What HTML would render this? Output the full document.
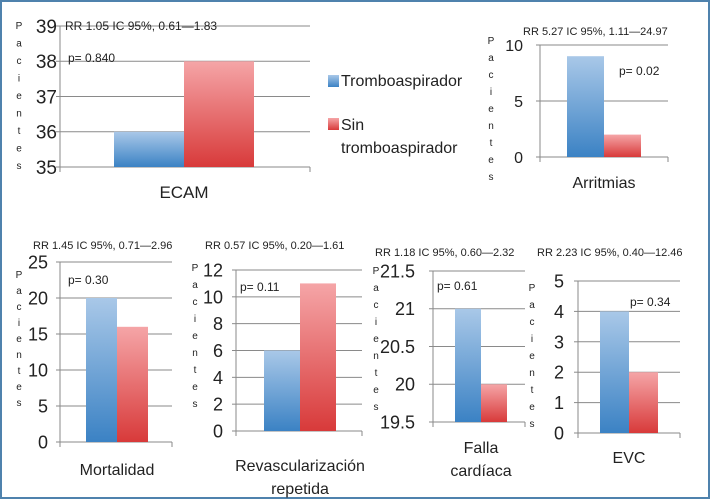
<!DOCTYPE html>
<html><head><meta charset="utf-8">
<style>
html,body{margin:0;padding:0;background:#fff;}
svg{display:block;font-family:"Liberation Sans",sans-serif;}
</style></head>
<body>
<svg id="fig" width="710" height="499" viewBox="0 0 710 499" xmlns="http://www.w3.org/2000/svg">
<defs>
<linearGradient id="gb" x1="0" y1="0" x2="0" y2="1"><stop offset="0" stop-color="#a9c8e8"/><stop offset="1" stop-color="#3b82c4"/></linearGradient>
<linearGradient id="gr" x1="0" y1="0" x2="0" y2="1"><stop offset="0" stop-color="#f5a5a7"/><stop offset="1" stop-color="#d83a3a"/></linearGradient>
</defs>
<rect x="1" y="1" width="708" height="497" fill="#fff" stroke="#4f82ad" stroke-width="2"/>
<g>
<rect x="328" y="75" width="11" height="12" fill="url(#gb)"/>
<text x="341" y="86" font-size="16" fill="#222">Tromboaspirador</text>
<rect x="328" y="118" width="11" height="12" fill="url(#gr)"/>
<text x="341" y="130" font-size="16" fill="#222">Sin</text>
<text x="341" y="153" font-size="16" fill="#222">tromboaspirador</text>
</g>
</svg>
<script>
const panelNames=["ecam","arritmias","mortalidad","revascularizacion","falla-cardiaca","evc"];
const categories=[["ECAM"],["Arritmias"],["Mortalidad"],["Revascularización","repetida"],["Falla","cardíaca"],["EVC"]];
const conTrombo=[36,9,20,6,21,4];
const sinTrombo=[38,2,16,11,20,2];
const yMin=[35,0,0,0,19.5,0];
const yMax=[39,10,25,12,21.5,5];
const yStep=[1,5,5,2,0.5,1];
const rrLabels=["RR 1.05 IC 95%, 0.61\u20141.83","RR 5.27 IC 95%, 1.11\u201424.97","RR 1.45 IC 95%, 0.71\u20142.96","RR 0.57 IC 95%, 0.20\u20141.61","RR 1.18 IC 95%, 0.60\u20142.32","RR 2.23 IC 95%, 0.40\u201412.46"];
const pLabels=["p= 0.840","p= 0.02","p= 0.30","p= 0.11","p= 0.61","p= 0.34"];
// layout (pixels)
const L=[
 {l:60,r:310,t:26,b:167,b0:114,bw:70,tf:19,tx:57,lx:19,ly:29,ls:17.5,rx:65,ry:30,rf:12,px:68,py:62,cy:[198],cf:17},
 {l:540,r:668,t:45,b:157,b0:567,bw:37,tf:16,tx:523,lx:491,ly:44,ls:17,rx:523,ry:35,rf:11,px:619,py:75,cy:[188],cf:16},
 {l:60,r:172,t:262,b:442,b0:86,bw:31,tf:18,tx:48,lx:19,ly:278,ls:16,rx:33,ry:249,rf:11,px:68,py:284,cy:[475,497],cf:16},
 {l:236,r:362,t:270,b:431,b0:264,bw:36,tf:18,tx:223,lx:195,ly:271,ls:17,rx:205,ry:249,rf:11,px:240,py:291,cy:[471,494],cf:16},
 {l:433,r:525,t:271,b:422,b0:455,bw:26,tf:18,tx:415,lx:376,ly:274,ls:17,rx:375,ry:256,rf:11,px:437,py:290,cy:[453,476],cf:16},
 {l:578,r:680,t:281,b:433,b0:600,bw:29,tf:18,tx:564,lx:532,ly:291,ls:17,rx:537,ry:256,rf:11,px:630,py:306,cy:[463],cf:16}
];
const NS="http://www.w3.org/2000/svg";
const svg=document.getElementById('fig');
function mk(tag,attrs,parent){const e=document.createElementNS(NS,tag);for(const k in attrs)e.setAttribute(k,attrs[k]);parent.appendChild(e);return e;}
panelNames.forEach((nm,i)=>{
 const g=L[i];
 const grp=mk('g',{},svg);
 
 
 const y=v=>g.b-(v-yMin[i])/(yMax[i]-yMin[i])*(g.b-g.t);
 const n=Math.round((yMax[i]-yMin[i])/yStep[i]);
 for(let k=0;k<=n;k++){
  const v=yMin[i]+k*yStep[i];
  const ln=mk('line',{x1:g.l,x2:g.r,y1:y(v),y2:y(v),stroke:'#8a8a8a','stroke-width':1},grp);
  
  
  const tk=mk('line',{x1:g.l-4,x2:g.l,y1:y(v),y2:y(v),stroke:'#8a8a8a'},grp);
  
  
  const t=mk('text',{x:g.tx,y:y(v)+g.tf*0.36,'font-size':g.tf,'text-anchor':'end',fill:'#222'},grp);
  t.textContent=String(v);
  
  
 }
 const ax=mk('line',{x1:g.l,x2:g.l,y1:g.t,y2:g.b,stroke:'#8a8a8a'},grp);
 
 
 [g.l,g.r].forEach(xx=>{const m=mk('line',{x1:xx,x2:xx,y1:g.b,y2:g.b+5,stroke:'#8a8a8a'},grp);
  
  });
 const bb=mk('rect',{x:g.b0,y:y(conTrombo[i]),width:g.bw,height:g.b-y(conTrombo[i]),fill:'url(#gb)'},grp);
 
 
 const rb=mk('rect',{x:g.b0+g.bw,y:y(sinTrombo[i]),width:g.bw,height:g.b-y(sinTrombo[i]),fill:'url(#gr)'},grp);
 
 
 const word="Pacientes";
 for(let c=0;c<word.length;c++){
  const t=mk('text',{x:g.lx,y:g.ly+c*g.ls,'font-size':10,'text-anchor':'middle',fill:'#222'},grp);
  t.textContent=word[c];
  
  
 }
 const rr=mk('text',{x:g.rx,y:g.ry,'font-size':g.rf,fill:'#222'},grp);
 rr.textContent=rrLabels[i];
 
 
 const p=mk('text',{x:g.px,y:g.py,'font-size':12,fill:'#222'},grp);
 p.textContent=pLabels[i];
 
 
 categories[i].forEach((s,j)=>{
  const t=mk('text',{x:g.b0+g.bw,y:g.cy[j],'font-size':g.cf,'text-anchor':'middle',fill:'#222'},grp);
  t.textContent=s;
  
  
 });
});
</script>
</body></html>
